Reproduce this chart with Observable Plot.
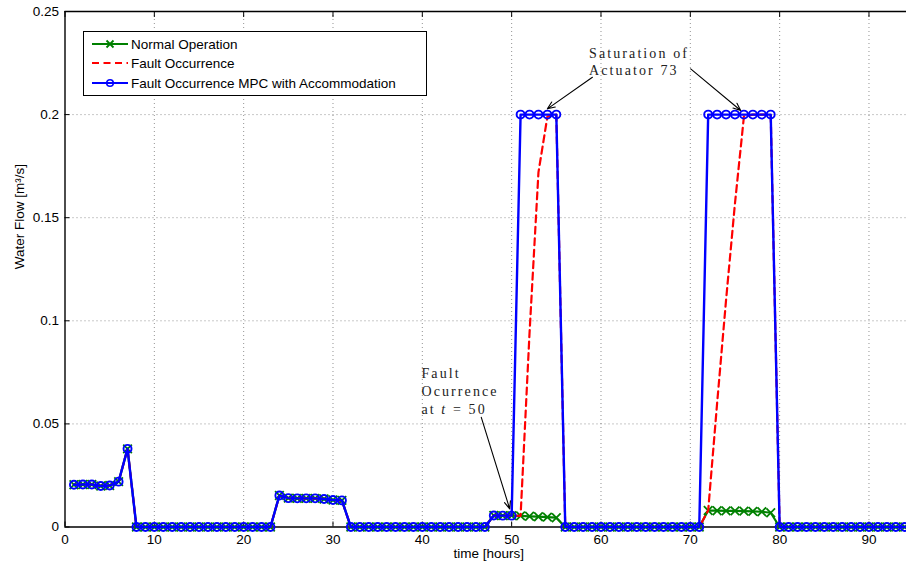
<!DOCTYPE html>
<html><head><meta charset="utf-8">
<script src="https://cdn.jsdelivr.net/npm/d3@7"></script>
<script src="https://cdn.jsdelivr.net/npm/@observablehq/plot@0.6"></script>
<style>
body{margin:0;overflow:hidden;background:#fff;}
#wrap{position:relative;width:906px;height:566px;overflow:hidden;background:#fff;}
.legend{position:absolute;left:83px;top:31px;width:344px;height:65px;border:1px solid #000;background:#fff;box-sizing:border-box;font-family:"Liberation Sans",Arial,sans-serif;font-size:13.5px;color:#000;}
.row{position:absolute;left:0;height:20px;display:flex;align-items:center;white-space:nowrap;}
.row svg{margin-left:7.5px;margin-right:3.5px;}
</style></head><body><div id="wrap"></div>
<script>
// ---- data ----
const hours = [1,2,3,4,5,6,7,8,9,10,11,12,13,14,15,16,17,18,19,20,21,22,23,24,25,26,27,28,29,30,31,32,33,34,35,36,37,38,39,40,41,42,43,44,45,46,47,48,49,50,51,52,53,54,55,56,57,58,59,60,61,62,63,64,65,66,67,68,69,70,71,72,73,74,75,76,77,78,79,80,81,82,83,84,85,86,87,88,89,90,91,92,93,94,95,96];

const normalOperation = [
  0.0205,0.0206,0.0206,0.0199,0.0201,0.0220,0.0379,
  0,0,0,0,0,0,0,0,0,0,0,0,0,0,0,0,
  0.0153,0.0140,0.0139,0.0139,0.0139,0.0136,0.0131,0.0129,
  0,0,0,0,0,0,0,0,0,0,0,0,0,0,0,0,
  0.0056,0.0055,0.0055,0.0054,0.0052,0.0050,0.0048,0.0045,
  0,0,0,0,0,0,0,0,0,0,0,0,0,0,0,0,
  0.0080,0.0079,0.0078,0.0078,0.0077,0.0076,0.0074,0.0069,
  0,0,0,0,0,0,0,0,0,0,0,0,0,0,0,0,0
];
const faultOccurrence = [
  0.0205,0.0206,0.0206,0.0199,0.0201,0.0220,0.0379,
  0,0,0,0,0,0,0,0,0,0,0,0,0,0,0,0,
  0.0153,0.0140,0.0139,0.0139,0.0139,0.0136,0.0131,0.0129,
  0,0,0,0,0,0,0,0,0,0,0,0,0,0,0,0,
  0.0056,0.0055,0.0055,0.0054,0.094,0.172,0.199,0.2,
  0,0,0,0,0,0,0,0,0,0,0,0,0,0,0,0,
  0.0080,0.060,0.110,0.157,0.199,0.2,0.2,0.2,
  0,0,0,0,0,0,0,0,0,0,0,0,0,0,0,0,0
];
const faultMPCAccommodation = [
  0.0205,0.0206,0.0206,0.0199,0.0201,0.0220,0.0379,
  0,0,0,0,0,0,0,0,0,0,0,0,0,0,0,0,
  0.0153,0.0140,0.0139,0.0139,0.0139,0.0136,0.0131,0.0129,
  0,0,0,0,0,0,0,0,0,0,0,0,0,0,0,0,
  0.0056,0.0055,0.0055,0.2,0.2,0.2,0.2,0.2,
  0,0,0,0,0,0,0,0,0,0,0,0,0,0,0,0,
  0.2,0.2,0.2,0.2,0.2,0.2,0.2,0.2,
  0,0,0,0,0,0,0,0,0,0,0,0,0,0,0,0,0
];

const seriesNames = ["Normal Operation", "Fault Occurrence", "Fault Occurrence MPC with Accommodation"];
const xTicks = [0,10,20,30,40,50,60,70,80,90];
const xTickLabels = ["0","10","20","30","40","50","60","70","80","90"];
const yTicks = [0,0.05,0.1,0.15,0.2,0.25];
const yTickLabels = ["0","0.05","0.1","0.15","0.2","0.25"];
const xLabel = "time [hours]";
const yLabel = "Water Flow [m\u00b3/s]";

// annotations (data coordinates)
const annotationTexts = [
  {t: 39.9, v: 0.0743, text: "Fault"},
  {t: 39.9, v: 0.0657, text: "Ocurrence"},
  {t: 39.9, v: 0.0570, text: "at t = 50"},
  {t: 58.66, v: 0.2295, text: "Saturation of"},
  {t: 58.66, v: 0.2213, text: "Actuator 73"}
];
const annotationArrows = [
  {t1: 46.6, v1: 0.0532, t2: 49.78, v2: 0.0088},
  {t1: 59.04, v1: 0.2181, t2: 54.0, v2: 0.2028},
  {t1: 70.04, v1: 0.2222, t2: 75.64, v2: 0.2020}
];

const colors = {normal: "#008000", fault: "#ff0000", mpc: "#0000ff"};

// ---- build ----
const normalData = hours.map((t, i) => ({t, v: normalOperation[i]}));
const faultData = hours.map((t, i) => ({t, v: faultOccurrence[i]}));
const mpcData = hours.map((t, i) => ({t, v: faultMPCAccommodation[i]}));

const gridStyle = {stroke: "#555", strokeOpacity: 0.8, strokeWidth: 0.8, strokeDasharray: "1,3"};

const svg = Plot.plot({
  width: 906,
  height: 566,
  marginLeft: 64.5,
  marginRight: 0,
  marginTop: 11,
  marginBottom: 39.5,
  style: {fontFamily: "'Liberation Sans', Arial, sans-serif", fontSize: "13.5px", background: "transparent", color: "#000"},
  x: {domain: [0, 94.2]},
  y: {domain: [0, 0.25]},
  marks: [
    Plot.gridX(xTicks.slice(1), gridStyle),
    Plot.gridY(yTicks.slice(1, -1), gridStyle),
    Plot.axisX({ticks: xTicks, tickSize: -5, tickPadding: 12, label: null,
      tickFormat: d => xTickLabels[xTicks.indexOf(d)]}),
    Plot.axisX({anchor: "top", ticks: xTicks, tickSize: -5, label: null, tickFormat: () => ""}),
    Plot.axisY({ticks: yTicks, tickSize: -5, tickPadding: 11, label: null,
      tickFormat: d => yTickLabels[yTicks.indexOf(d)]}),
    Plot.ruleX([0], {stroke: "#000", strokeWidth: 1.4}),
    Plot.ruleY([0, 0.25], {stroke: "#000", strokeWidth: 1.4}),
    Plot.text([xLabel], {frameAnchor: "bottom", dx: 3, dy: 26.5, lineAnchor: "middle", fontSize: 13.5}),
    Plot.text([yLabel], {frameAnchor: "left", rotate: -90, dx: -45, lineAnchor: "middle", fontSize: 13.5}),
    // Normal operation
    Plot.line(normalData, {x: "t", y: "v", stroke: colors.normal, strokeWidth: 2.2}),
    Plot.dot(normalData, {x: "t", y: "v", symbol: "times", r: 4, stroke: colors.normal, strokeWidth: 1.8}),
    // Fault occurrence
    Plot.line(faultData, {x: "t", y: "v", stroke: colors.fault, strokeWidth: 2.2, strokeDasharray: "7,4.5"}),
    // MPC with accommodation
    Plot.line(mpcData, {x: "t", y: "v", stroke: colors.mpc, strokeWidth: 2.4}),
    Plot.dot(mpcData, {x: "t", y: "v", symbol: "circle", r: 4, fill: "none", stroke: colors.mpc, strokeWidth: 1.9}),
    // annotations
    Plot.text(annotationTexts, {x: "t", y: "v", text: "text", textAnchor: "start", lineAnchor: "middle",
      fontFamily: "'Liberation Serif', 'DejaVu Serif', serif", fontSize: 14, fill: "#222"}),
    Plot.arrow(annotationArrows, {x1: "t1", y1: "v1", x2: "t2", y2: "v2", stroke: "#000", strokeWidth: 1.1, headLength: 11, headAngle: 45})
  ]
});

// letter spacing + italic t for annotation texts
const annSet = new Set(annotationTexts.map(d => d.text));
svg.querySelectorAll("text").forEach(el => {
  const s = el.textContent;
  if (!annSet.has(s)) return;
  el.setAttribute("letter-spacing", "2.1");
  if (s === "at t = 50") {
    el.textContent = "";
    const ns = "http://www.w3.org/2000/svg";
    const a = document.createElementNS(ns, "tspan"); a.textContent = "at ";
    const b = document.createElementNS(ns, "tspan"); b.textContent = "t"; b.setAttribute("font-style", "italic");
    const c = document.createElementNS(ns, "tspan"); c.textContent = " = 50";
    el.append(a, b, c);
  }
});

const wrap = document.getElementById("wrap");
wrap.appendChild(svg);

// legend
const legend = document.createElement("div");
legend.className = "legend";
const rows = [
  {name: seriesNames[0], color: colors.normal, dash: null, marker: "x"},
  {name: seriesNames[1], color: colors.fault, dash: "7,4.5", marker: null},
  {name: seriesNames[2], color: colors.mpc, dash: null, marker: "o"}
];
const rowTops = [2, 21.3, 41.3];
rows.forEach((r, i) => {
  const row = document.createElement("div");
  row.className = "row";
  row.style.top = rowTops[i] + "px";
  let m = "";
  if (r.marker === "x") m = `<path d="M14.5,2.5L21.5,9.5M21.5,2.5L14.5,9.5" stroke="${r.color}" stroke-width="1.8"/>`;
  if (r.marker === "o") m = `<circle cx="18" cy="6" r="3.3" fill="none" stroke="${r.color}" stroke-width="1.6"/>`;
  row.innerHTML = `<svg width="36" height="12"><line x1="0" y1="6" x2="36" y2="6" stroke="${r.color}" stroke-width="2" ${r.dash ? `stroke-dasharray="${r.dash}"` : ""}/>${m}</svg><span>${r.name}</span>`;
  legend.appendChild(row);
});
wrap.appendChild(legend);
</script>
</body></html>
